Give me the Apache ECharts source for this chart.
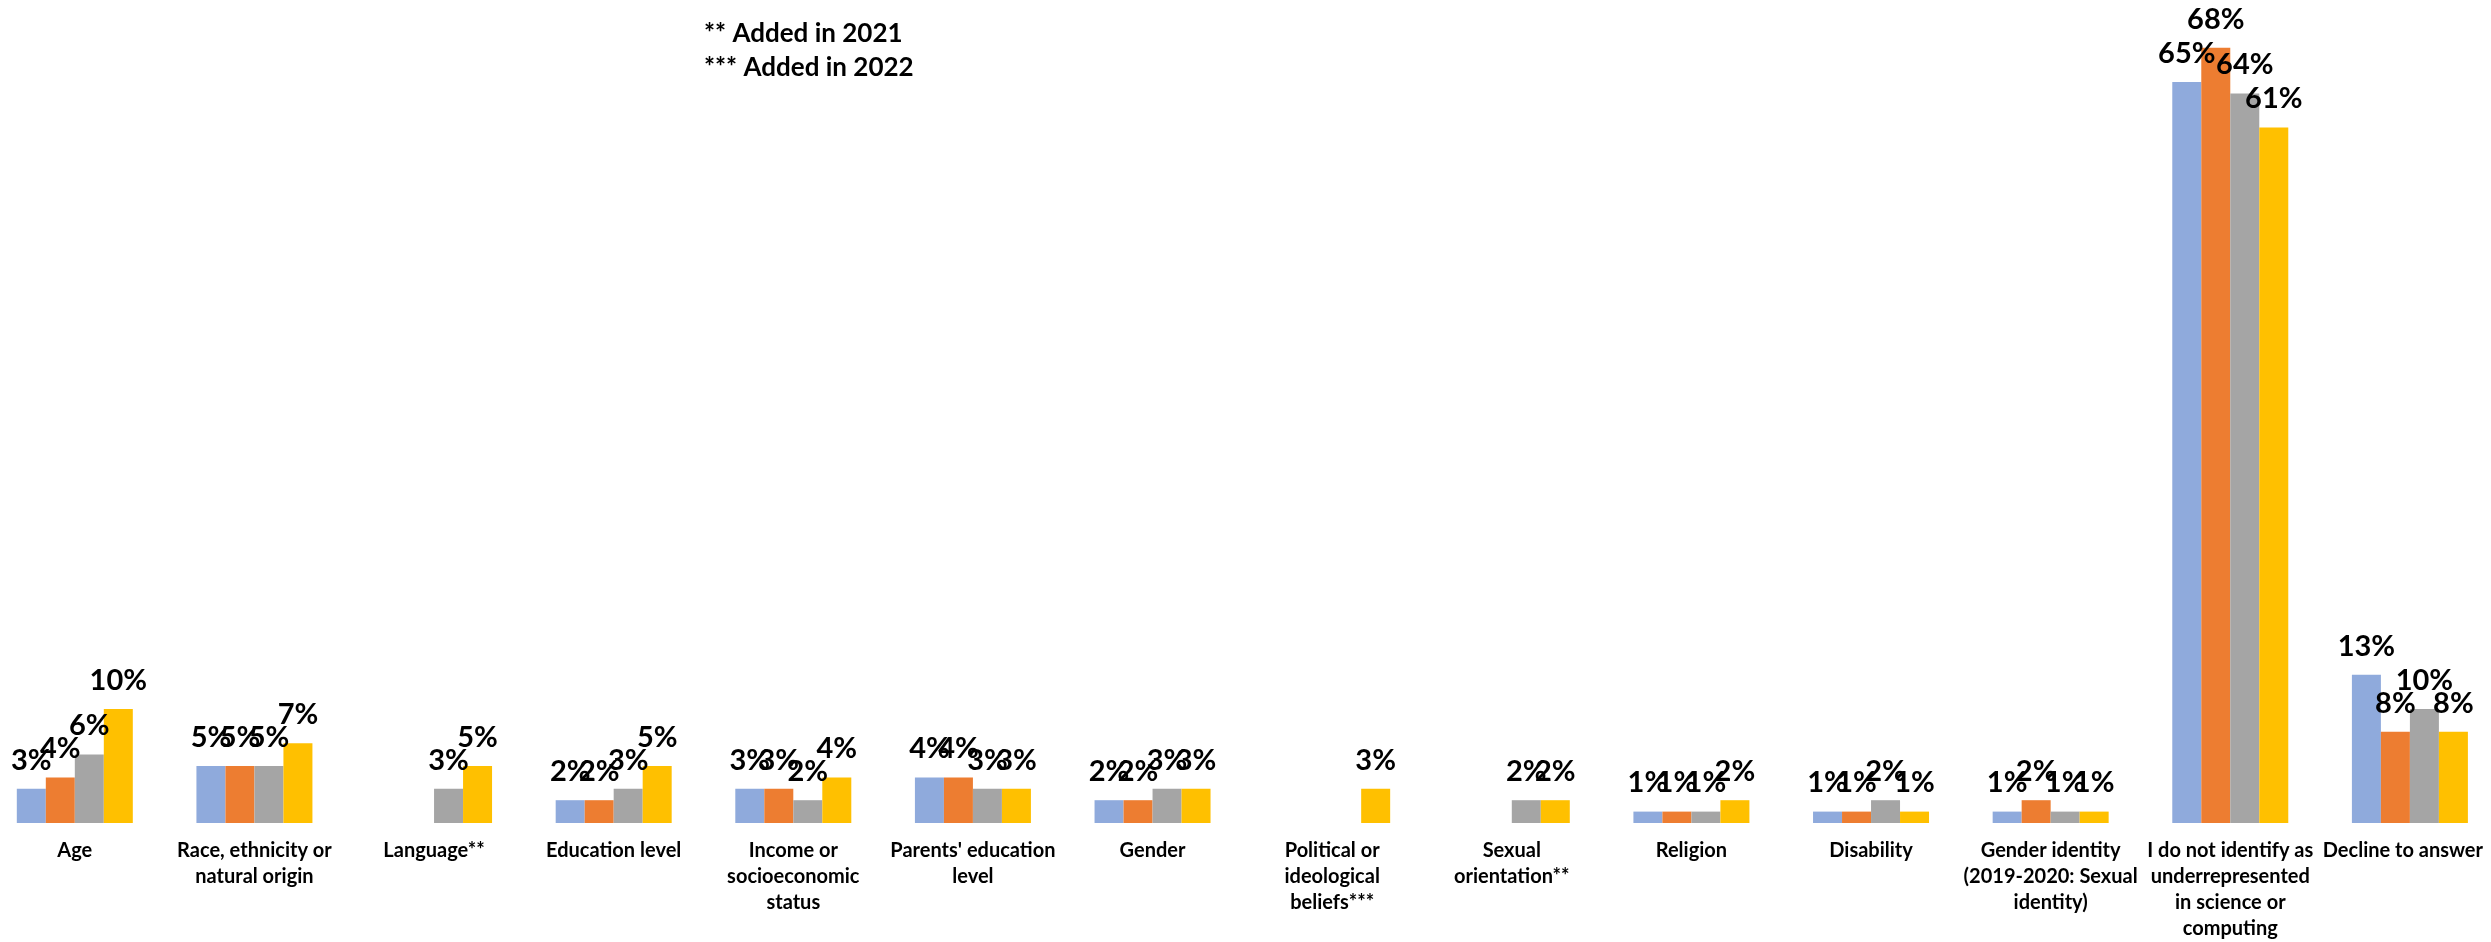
<!DOCTYPE html>
<html>
<head>
<meta charset="utf-8">
<script src="https://cdn.jsdelivr.net/npm/echarts@6/dist/echarts.min.js"></script>
<style>
  html, body { margin: 0; padding: 0; background: #ffffff; overflow: hidden; width: 2491px; height: 942px; }
  #chart { position: absolute; left: -15px; top: 0; width: 2515px; height: 942px; }
</style>
</head>
<body>
<div id="chart"></div>
<script>
// Category tick labels (line breaks as in the reference)
const categories = [
  "Age",
  "Race, ethnicity or\nnatural origin",
  "Language**",
  "Education level",
  "Income or\nsocioeconomic\nstatus",
  "Parents' education\nlevel",
  "Gender",
  "Political or\nideological\nbeliefs***",
  "Sexual\norientation**",
  "Religion",
  "Disability",
  "Gender identity\n(2019-2020: Sexual\nidentity)",
  "I do not identify as\nunderrepresented\nin science or\ncomputing",
  "Decline to answer"
];

const seriesNames = ["2019", "2020", "2021", "2022"];

// Percent values per series (null = not asked that year)
const values2019 = [3, 5, null, 2, 3, 4, 2, null, null, 1, 1, 1, 65, 13];
const values2020 = [4, 5, null, 2, 3, 4, 2, null, null, 1, 1, 2, 68, 8];
const values2021 = [6, 5, 3, 3, 2, 3, 3, null, 2, 1, 2, 1, 64, 10];
const values2022 = [10, 7, 5, 5, 4, 3, 3, 3, 2, 2, 1, 1, 61, 8];

const notes = ["** Added in 2021", "*** Added in 2022"];

const colors = ["#8FAADC", "#ED7D31", "#A5A5A5", "#FFC000"];
const allValues = [values2019, values2020, values2021, values2022];

const chart = echarts.init(document.getElementById('chart'), null, { renderer: 'canvas' });

// Last label sits against the right edge in the reference: nudge it left a little
const axisData = categories.map((c, i) => i === categories.length - 1
  ? { value: c, textStyle: { padding: [0, 14, 0, 0] } }
  : c);

const option = {
  backgroundColor: '#ffffff',
  animation: false,
  grid: { left: 0, right: 0, top: 25, bottom: 117, containLabel: false },
  xAxis: {
    type: 'category',
    data: axisData,
    axisLine: { show: false },
    axisTick: { show: false },
    splitLine: { show: false },
    axisLabel: {
      interval: 0,
      margin: 15,
      color: '#000000',
      fontFamily: 'Lato',
      fontWeight: 'bold',
      fontSize: 20,
      lineHeight: 26,
      align: 'center'
    }
  },
  yAxis: {
    type: 'value',
    min: 0,
    max: 70,
    show: false,
    splitLine: { show: false }
  },
  series: allValues.map((vals, i) => ({
    name: seriesNames[i],
    type: 'bar',
    data: vals,
    barWidth: 29,
    barGap: '0%',
    itemStyle: { color: colors[i] },
    label: {
      show: true,
      position: 'top',
      distance: 14,
      formatter: p => p.value == null ? '' : p.value + '%',
      color: '#000000',
      fontFamily: 'Lato',
      fontWeight: 'bold',
      fontSize: 29
    }
  })),
  graphic: [{
    type: 'text',
    left: 719,
    top: 17,
    style: {
      text: notes.join('\n'),
      font: 'bold 26px Lato',
      lineHeight: 34,
      fill: '#000000'
    }
  }]
};

chart.setOption(option);
</script>
</body>
</html>
